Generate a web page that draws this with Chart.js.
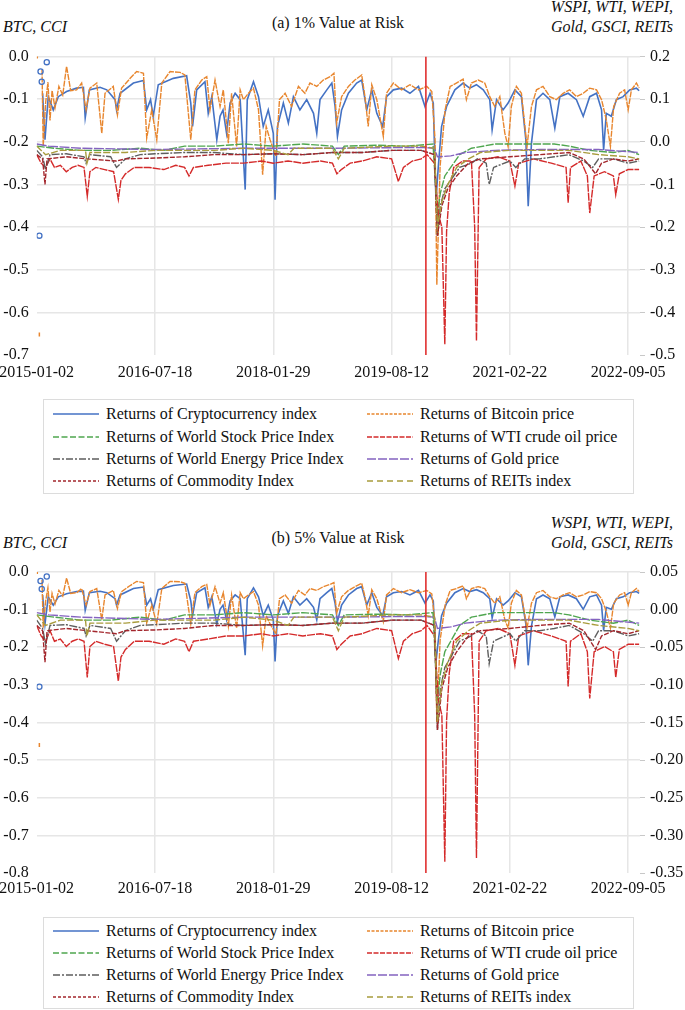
<!DOCTYPE html>
<html>
<head>
<meta charset="utf-8">
<script src="https://cdn.jsdelivr.net/npm/chart.js@4.4.0/dist/chart.umd.min.js"></script>
<style>
  body { margin: 0; background: #fff; }
  #wrap { position: relative; width: 685px; height: 1010px; font-family: 'Liberation Serif', 'Times New Roman', serif; color: #111; overflow: hidden; }
  .txt { position: absolute; font-size: 16px; line-height: 20px; white-space: nowrap; }
  .it { font-style: italic; }
  .box { position: absolute; border: 1px solid #dcdcdc; box-sizing: border-box; }
  .item { position: absolute; height: 22px; line-height: 22px; font-size: 16px; white-space: nowrap; }
  .item svg { position: absolute; top: 9px; }
  .item span { position: absolute; }
</style>
</head>
<body>
<div id="wrap">
  <div class="txt" style="left:0;width:676px;text-align:center;top:13px">(a) 1% Value at Risk</div>
  <div class="txt it" style="left:3px;top:17px">BTC, CCI</div>
  <div class="txt it" style="right:12px;top:-3px;text-align:right">WSPI, WTI, WEPI,<br>Gold, GSCI, REITs</div>
  <div style="position:absolute;left:0;top:0;width:685px;height:390px"><canvas id="chartA" width="685" height="390"></canvas></div>
  <div class="box" id="legA" style="left:43px;top:399px;width:591px;height:95px"></div>

  <div class="txt" style="left:0;width:676px;text-align:center;top:528px">(b) 5% Value at Risk</div>
  <div class="txt it" style="left:3px;top:533px">BTC, CCI</div>
  <div class="txt it" style="right:12px;top:513px;text-align:right">WSPI, WTI, WEPI,<br>Gold, GSCI, REITs</div>
  <div style="position:absolute;left:0;top:500px;width:685px;height:410px"><canvas id="chartB" width="685" height="410"></canvas></div>
  <div class="box" id="legB" style="left:43px;top:917px;width:591px;height:92px"></div>
</div>
<script>
// x axis = trading-day index from 2015-01-02
const dateTicks = [0, 400, 800, 1200, 1600, 2000];
const dateLabels = ['2015-01-02', '2016-07-18', '2018-01-29', '2019-08-12', '2021-02-22', '2022-09-05'];
const covidIdx = 1316;

const leftTicksA = [0, -0.1, -0.2, -0.3, -0.4, -0.5, -0.6, -0.7];
const rightTicksA = [0.2, 0.1, 0, -0.1, -0.2, -0.3, -0.4, -0.5];
const leftTicksB = [0, -0.1, -0.2, -0.3, -0.4, -0.5, -0.6, -0.7, -0.8];
const rightTicksB = [0.05, 0, -0.05, -0.1, -0.15, -0.2, -0.25, -0.3, -0.35];

const seriesNames = [
  'Returns of Cryptocurrency index', 'Returns of Bitcoin price',
  'Returns of World Stock Price Index', 'Returns of WTI crude oil price',
  'Returns of World Energy Price Index', 'Returns of Gold price',
  'Returns of Commodity Index', 'Returns of REITs index'
];

// ---- panel (a): 1% VaR ----
const cciOutA = [[9,-0.42],[13,-0.035],[17,-0.059],[34,-0.013]];
const btcOutA = [[2,0.0],[9,-0.652]];
const cciA = [[20,-0.086],[28,-0.195],[39,-0.094],[56,-0.125],[73,-0.094],[101,-0.082],[135,-0.074],[158,-0.072],[164,-0.144],[178,-0.078],
  [214,-0.072],[237,-0.078],[265,-0.101],[270,-0.125],[282,-0.086],[327,-0.062],[361,-0.056],[372,-0.125],[385,-0.101],[394,-0.14],
  [411,-0.066],[462,-0.051],[507,-0.045],[521,-0.109],[527,-0.164],[541,-0.078],[569,-0.059],[580,-0.133],[592,-0.094],[609,-0.195],
  [620,-0.14],[630,-0.125],[642,-0.18],[654,-0.109],[671,-0.086],[688,-0.101],[705,-0.312],[712,-0.101],[733,-0.059],[750,-0.094],
  [766,-0.164],[783,-0.125],[800,-0.18],[806,-0.336],[814,-0.164],[834,-0.109],[851,-0.156],[868,-0.094],[890,-0.125],[913,-0.101],
  [936,-0.133],[947,-0.18],[958,-0.101],[981,-0.078],[998,-0.062],[1009,-0.117],[1017,-0.187],[1031,-0.125],[1054,-0.086],[1082,-0.062],
  [1099,-0.055],[1116,-0.125],[1133,-0.078],[1150,-0.133],[1170,-0.164],[1183,-0.094],[1206,-0.078],[1234,-0.074],[1262,-0.086],[1291,-0.07],
  [1313,-0.117],[1330,-0.086],[1341,-0.109],[1350,-0.336],[1358,-0.258],[1369,-0.164],[1386,-0.117],[1414,-0.078],[1442,-0.062],[1464,-0.074],
  [1487,-0.066],[1510,-0.078],[1532,-0.101],[1540,-0.172],[1555,-0.101],[1577,-0.125],[1594,-0.109],[1617,-0.078],[1639,-0.094],[1654,-0.195],
  [1662,-0.351],[1673,-0.203],[1690,-0.101],[1712,-0.086],[1735,-0.101],[1752,-0.168],[1769,-0.094],[1797,-0.086],[1825,-0.101],[1848,-0.14],
  [1870,-0.094],[1893,-0.086],[1910,-0.125],[1917,-0.219],[1926,-0.133],[1943,-0.14],[1960,-0.101],[1983,-0.094],[2005,-0.078],[2028,-0.074],[2037,-0.08]];
const btcA = [[18,-0.03],[22,-0.21],[30,-0.11],[38,-0.06],[45,-0.15],[52,-0.08],[62,-0.12],[75,-0.07],[88,-0.09],[101,-0.023],
  [115,-0.08],[135,-0.078],[152,-0.062],[167,-0.125],[180,-0.074],[203,-0.062],[220,-0.18],[231,-0.086],[259,-0.07],[273,-0.137],
  [287,-0.074],[316,-0.051],[338,-0.035],[361,-0.039],[372,-0.191],[389,-0.125],[406,-0.195],[423,-0.062],[451,-0.035],[485,-0.037],
  [501,-0.043],[521,-0.195],[535,-0.078],[558,-0.055],[575,-0.047],[586,-0.125],[603,-0.055],[620,-0.117],[631,-0.078],[648,-0.203],
  [659,-0.086],[676,-0.211],[688,-0.078],[699,-0.101],[716,-0.086],[733,-0.074],[750,-0.125],[764,-0.277],[776,-0.164],[789,-0.195],
  [809,-0.234],[821,-0.101],[840,-0.086],[862,-0.117],[885,-0.07],[907,-0.086],[924,-0.062],[947,-0.07],[969,-0.055],[992,-0.047],
  [1005,-0.039],[1014,-0.156],[1031,-0.094],[1054,-0.07],[1076,-0.055],[1099,-0.043],[1110,-0.094],[1121,-0.164],[1133,-0.066],[1150,-0.101],
  [1172,-0.187],[1183,-0.086],[1206,-0.062],[1234,-0.078],[1262,-0.066],[1291,-0.078],[1319,-0.07],[1336,-0.082],[1347,-0.195],[1353,-0.535],
  [1364,-0.258],[1381,-0.125],[1398,-0.07],[1419,-0.062],[1442,-0.053],[1453,-0.101],[1470,-0.062],[1493,-0.055],[1515,-0.062],[1532,-0.094],
  [1549,-0.117],[1566,-0.094],[1583,-0.18],[1594,-0.211],[1605,-0.117],[1622,-0.07],[1639,-0.086],[1658,-0.211],[1673,-0.117],[1690,-0.078],
  [1712,-0.07],[1735,-0.094],[1757,-0.101],[1780,-0.086],[1802,-0.078],[1825,-0.094],[1848,-0.086],[1870,-0.074],[1893,-0.078],[1910,-0.101],
  [1926,-0.148],[1940,-0.211],[1951,-0.117],[1971,-0.086],[1988,-0.078],[2000,-0.125],[2011,-0.078],[2028,-0.062],[2037,-0.074]];
const wspiA = [[0,-0.01],[60,-0.015],[150,-0.02],[250,-0.02],[350,-0.015],[430,-0.02],[500,-0.01],[600,-0.01],[700,-0.005],[800,-0.01],
  [900,-0.005],[1000,-0.01],[1020,-0.03],[1040,-0.01],[1150,-0.008],[1250,-0.01],[1340,-0.005],[1355,-0.17],[1365,-0.12],[1380,-0.08],
  [1400,-0.06],[1430,-0.03],[1470,-0.015],[1550,-0.005],[1650,-0.005],[1750,-0.005],[1800,-0.01],[1870,-0.02],[1950,-0.025],[2000,-0.02],[2037,-0.03]];
const wtiA = [[0,-0.03],[15,-0.05],[30,-0.06],[45,-0.04],[60,-0.06],[80,-0.055],[100,-0.07],[120,-0.06],[140,-0.055],[160,-0.06],
  [171,-0.128],[180,-0.07],[200,-0.06],[230,-0.065],[260,-0.07],[276,-0.135],[285,-0.09],[300,-0.075],[330,-0.06],[380,-0.06],
  [430,-0.065],[470,-0.055],[500,-0.06],[515,-0.08],[530,-0.06],[580,-0.055],[640,-0.05],[700,-0.05],[760,-0.045],[800,-0.05],
  [850,-0.045],[900,-0.05],[960,-0.045],[1000,-0.05],[1015,-0.075],[1030,-0.065],[1060,-0.05],[1100,-0.045],[1150,-0.035],[1200,-0.04],
  [1223,-0.093],[1240,-0.06],[1270,-0.045],[1300,-0.04],[1320,-0.03],[1345,-0.05],[1358,-0.17],[1370,-0.2],[1380,-0.475],[1386,-0.21],
  [1395,-0.12],[1410,-0.06],[1440,-0.045],[1470,-0.045],[1481,-0.2],[1487,-0.467],[1496,-0.06],[1520,-0.04],[1560,-0.035],[1600,-0.045],
  [1617,-0.104],[1630,-0.05],[1680,-0.04],[1740,-0.05],[1790,-0.06],[1797,-0.143],[1805,-0.06],[1840,-0.045],[1862,-0.08],[1870,-0.167],
  [1885,-0.08],[1920,-0.07],[1950,-0.08],[1958,-0.124],[1970,-0.075],[2000,-0.065],[2037,-0.065]];
const wepiA = [[0,-0.02],[20,-0.035],[30,-0.065],[45,-0.03],[100,-0.028],[160,-0.035],[167,-0.05],[180,-0.03],[250,-0.035],[270,-0.06],
  [300,-0.04],[350,-0.03],[400,-0.028],[500,-0.025],[600,-0.025],[700,-0.03],[800,-0.028],[900,-0.03],[1000,-0.025],[1100,-0.025],
  [1200,-0.02],[1300,-0.02],[1345,-0.03],[1355,-0.22],[1365,-0.15],[1380,-0.11],[1400,-0.09],[1430,-0.06],[1470,-0.05],[1490,-0.04],
  [1520,-0.05],[1530,-0.1],[1545,-0.06],[1600,-0.045],[1620,-0.06],[1650,-0.04],[1700,-0.04],[1750,-0.035],[1800,-0.03],[1850,-0.045],
  [1880,-0.06],[1900,-0.04],[1950,-0.04],[2000,-0.05],[2037,-0.045]];
const goldA = [[0,-0.005],[40,-0.01],[150,-0.015],[400,-0.018],[700,-0.015],[1000,-0.015],[1300,-0.013],[1345,-0.015],[1355,-0.035],[1400,-0.033],
  [1450,-0.025],[1550,-0.02],[1700,-0.018],[1900,-0.018],[2037,-0.025]];
const gsciA = [[0,-0.03],[20,-0.04],[28,-0.1],[35,-0.04],[100,-0.035],[170,-0.04],[270,-0.045],[300,-0.04],[400,-0.038],[500,-0.035],
  [600,-0.03],[700,-0.03],[800,-0.028],[900,-0.03],[1000,-0.025],[1100,-0.025],[1200,-0.02],[1300,-0.02],[1345,-0.03],[1355,-0.22],
  [1370,-0.15],[1390,-0.11],[1420,-0.08],[1460,-0.05],[1500,-0.04],[1600,-0.035],[1700,-0.03],[1800,-0.025],[1850,-0.04],[1890,-0.075],
  [1910,-0.05],[1950,-0.04],[2000,-0.045],[2037,-0.04]];
const reitsA = [[0,-0.01],[30,-0.03],[80,-0.02],[165,-0.02],[170,-0.05],[180,-0.025],[300,-0.025],[400,-0.02],[600,-0.02],[700,-0.015],
  [800,-0.02],[850,-0.03],[870,-0.015],[1000,-0.015],[1020,-0.04],[1040,-0.015],[1200,-0.01],[1300,-0.01],[1345,-0.015],[1355,-0.2],
  [1370,-0.14],[1390,-0.1],[1420,-0.06],[1460,-0.04],[1500,-0.025],[1600,-0.02],[1700,-0.02],[1800,-0.02],[1900,-0.03],[2000,-0.035],[2037,-0.04]];

// ---- panel (b): 5% VaR ----
const cciOutB = [[9,-0.305],[13,-0.024],[17,-0.045],[34,-0.012]];
const btcOutB = [[2,0.0],[9,-0.46]];
const cciB = [[20,-0.061],[28,-0.138],[39,-0.066],[56,-0.088],[73,-0.066],[101,-0.058],[135,-0.052],[158,-0.051],[164,-0.102],[178,-0.055],
  [214,-0.051],[237,-0.055],[265,-0.071],[270,-0.088],[282,-0.061],[327,-0.044],[361,-0.04],[372,-0.088],[385,-0.071],[394,-0.099],
  [411,-0.047],[462,-0.036],[507,-0.032],[521,-0.077],[527,-0.116],[541,-0.055],[569,-0.042],[580,-0.094],[592,-0.066],[609,-0.138],
  [620,-0.099],[630,-0.088],[642,-0.127],[654,-0.077],[671,-0.061],[688,-0.071],[705,-0.221],[712,-0.071],[733,-0.042],[750,-0.066],
  [766,-0.116],[783,-0.088],[800,-0.127],[806,-0.238],[814,-0.116],[834,-0.077],[851,-0.11],[868,-0.066],[890,-0.088],[913,-0.071],
  [936,-0.094],[947,-0.127],[958,-0.071],[981,-0.055],[998,-0.044],[1009,-0.083],[1017,-0.132],[1031,-0.088],[1054,-0.061],[1082,-0.044],
  [1099,-0.039],[1116,-0.088],[1133,-0.055],[1150,-0.094],[1170,-0.116],[1183,-0.066],[1206,-0.055],[1234,-0.052],[1262,-0.061],[1291,-0.049],
  [1313,-0.083],[1330,-0.061],[1341,-0.077],[1350,-0.24],[1358,-0.182],[1369,-0.116],[1386,-0.083],[1414,-0.055],[1442,-0.044],[1464,-0.052],
  [1487,-0.047],[1510,-0.055],[1532,-0.071],[1540,-0.122],[1555,-0.071],[1577,-0.088],[1594,-0.077],[1617,-0.055],[1639,-0.066],[1654,-0.138],
  [1662,-0.248],[1673,-0.144],[1690,-0.071],[1712,-0.061],[1735,-0.071],[1752,-0.119],[1769,-0.066],[1797,-0.061],[1825,-0.071],[1848,-0.099],
  [1870,-0.066],[1893,-0.061],[1910,-0.088],[1917,-0.155],[1926,-0.094],[1943,-0.099],[1960,-0.071],[1983,-0.066],[2005,-0.055],[2028,-0.052],[2037,-0.057]];
const btcB = [[18,-0.021],[22,-0.148],[30,-0.078],[38,-0.042],[45,-0.106],[52,-0.057],[62,-0.085],[75,-0.049],[88,-0.064],[101,-0.016],
  [115,-0.057],[135,-0.055],[152,-0.044],[167,-0.088],[180,-0.052],[203,-0.044],[220,-0.127],[231,-0.061],[259,-0.049],[273,-0.097],
  [287,-0.052],[316,-0.036],[338,-0.025],[361,-0.028],[372,-0.135],[389,-0.088],[406,-0.138],[423,-0.044],[451,-0.025],[485,-0.026],
  [501,-0.03],[521,-0.138],[535,-0.055],[558,-0.039],[575,-0.033],[586,-0.088],[603,-0.039],[620,-0.083],[631,-0.055],[648,-0.144],
  [659,-0.061],[676,-0.149],[688,-0.055],[699,-0.071],[716,-0.061],[733,-0.052],[750,-0.088],[764,-0.196],[776,-0.116],[789,-0.138],
  [809,-0.165],[821,-0.071],[840,-0.061],[862,-0.083],[885,-0.049],[907,-0.061],[924,-0.044],[947,-0.049],[969,-0.039],[992,-0.033],
  [1005,-0.028],[1014,-0.11],[1031,-0.066],[1054,-0.049],[1076,-0.039],[1099,-0.03],[1110,-0.066],[1121,-0.116],[1133,-0.047],[1150,-0.071],
  [1172,-0.132],[1183,-0.061],[1206,-0.044],[1234,-0.055],[1262,-0.047],[1291,-0.055],[1319,-0.049],[1336,-0.058],[1347,-0.138],[1353,-0.4],
  [1364,-0.182],[1381,-0.088],[1398,-0.049],[1419,-0.044],[1442,-0.037],[1453,-0.071],[1470,-0.044],[1493,-0.039],[1515,-0.044],[1532,-0.066],
  [1549,-0.083],[1566,-0.066],[1583,-0.127],[1594,-0.149],[1605,-0.083],[1622,-0.049],[1639,-0.061],[1658,-0.149],[1673,-0.083],[1690,-0.055],
  [1712,-0.049],[1735,-0.066],[1757,-0.071],[1780,-0.061],[1802,-0.055],[1825,-0.066],[1848,-0.061],[1870,-0.052],[1893,-0.055],[1910,-0.071],
  [1926,-0.105],[1940,-0.149],[1951,-0.083],[1971,-0.061],[1988,-0.055],[2000,-0.088],[2011,-0.055],[2028,-0.044],[2037,-0.052]];
const wspiB = [[0,-0.007],[60,-0.01],[150,-0.014],[250,-0.014],[350,-0.01],[430,-0.014],[500,-0.007],[600,-0.007],[700,-0.004],[800,-0.007],
  [900,-0.004],[1000,-0.007],[1020,-0.021],[1040,-0.007],[1150,-0.006],[1250,-0.007],[1340,-0.004],[1355,-0.12],[1365,-0.085],[1380,-0.056],
  [1400,-0.042],[1430,-0.021],[1470,-0.01],[1550,-0.004],[1650,-0.004],[1750,-0.004],[1800,-0.007],[1870,-0.014],[1950,-0.018],[2000,-0.014],[2037,-0.021]];
const wtiB = [[0,-0.021],[15,-0.035],[30,-0.042],[45,-0.028],[60,-0.042],[80,-0.039],[100,-0.049],[120,-0.042],[140,-0.039],[160,-0.042],
  [171,-0.09],[180,-0.049],[200,-0.042],[230,-0.046],[260,-0.049],[276,-0.095],[285,-0.063],[300,-0.053],[330,-0.042],[380,-0.042],
  [430,-0.046],[470,-0.039],[500,-0.042],[515,-0.056],[530,-0.042],[580,-0.039],[640,-0.035],[700,-0.035],[760,-0.032],[800,-0.035],
  [850,-0.032],[900,-0.035],[960,-0.032],[1000,-0.035],[1015,-0.053],[1030,-0.046],[1060,-0.035],[1100,-0.032],[1150,-0.025],[1200,-0.028],
  [1223,-0.065],[1240,-0.042],[1270,-0.032],[1300,-0.028],[1320,-0.021],[1345,-0.035],[1358,-0.12],[1370,-0.14],[1380,-0.335],[1386,-0.147],
  [1395,-0.084],[1410,-0.042],[1440,-0.032],[1470,-0.032],[1481,-0.14],[1487,-0.33],[1496,-0.042],[1520,-0.028],[1560,-0.025],[1600,-0.032],
  [1617,-0.074],[1630,-0.035],[1680,-0.028],[1740,-0.035],[1790,-0.042],[1797,-0.102],[1805,-0.042],[1840,-0.032],[1862,-0.056],[1870,-0.118],
  [1885,-0.056],[1920,-0.049],[1950,-0.056],[1958,-0.09],[1970,-0.053],[2000,-0.046],[2037,-0.046]];
const wepiB = [[0,-0.014],[20,-0.025],[30,-0.046],[45,-0.021],[100,-0.02],[160,-0.025],[167,-0.035],[180,-0.021],[250,-0.025],[270,-0.042],
  [300,-0.028],[350,-0.021],[400,-0.02],[500,-0.018],[600,-0.018],[700,-0.021],[800,-0.02],[900,-0.021],[1000,-0.018],[1100,-0.018],
  [1200,-0.014],[1300,-0.014],[1345,-0.021],[1355,-0.16],[1365,-0.105],[1380,-0.077],[1400,-0.063],[1430,-0.042],[1470,-0.035],[1490,-0.028],
  [1520,-0.035],[1530,-0.072],[1545,-0.042],[1600,-0.032],[1620,-0.042],[1650,-0.028],[1700,-0.028],[1750,-0.025],[1800,-0.021],[1850,-0.032],
  [1880,-0.042],[1900,-0.028],[1950,-0.028],[2000,-0.035],[2037,-0.032]];
const goldB = [[0,-0.004],[40,-0.007],[150,-0.01],[400,-0.013],[700,-0.01],[1000,-0.01],[1300,-0.009],[1345,-0.01],[1355,-0.025],[1400,-0.023],
  [1450,-0.018],[1550,-0.014],[1700,-0.013],[1900,-0.013],[2037,-0.018]];
const gsciB = [[0,-0.021],[20,-0.028],[28,-0.07],[35,-0.028],[100,-0.025],[170,-0.028],[270,-0.032],[300,-0.028],[400,-0.027],[500,-0.025],
  [600,-0.021],[700,-0.021],[800,-0.02],[900,-0.021],[1000,-0.018],[1100,-0.018],[1200,-0.014],[1300,-0.014],[1345,-0.021],[1355,-0.16],
  [1370,-0.105],[1390,-0.077],[1420,-0.056],[1460,-0.035],[1500,-0.028],[1600,-0.025],[1700,-0.021],[1800,-0.018],[1850,-0.028],[1890,-0.053],
  [1910,-0.035],[1950,-0.028],[2000,-0.032],[2037,-0.028]];
const reitsB = [[0,-0.007],[30,-0.021],[80,-0.014],[165,-0.014],[170,-0.035],[180,-0.018],[300,-0.018],[400,-0.014],[600,-0.014],[700,-0.01],
  [800,-0.014],[850,-0.021],[870,-0.01],[1000,-0.01],[1020,-0.028],[1040,-0.01],[1200,-0.007],[1300,-0.007],[1345,-0.01],[1355,-0.15],
  [1370,-0.098],[1390,-0.07],[1420,-0.042],[1460,-0.028],[1500,-0.018],[1600,-0.014],[1700,-0.014],[1800,-0.014],[1900,-0.021],[2000,-0.025],[2037,-0.028]];

const colors = ['#4472C4', '#E8862E', '#4FA64F', '#D42A2A', '#5E5E5E', '#8463C0', '#A3262C', '#A89C3C'];
// legend samples show the dash clearly; in the plot the dense data hides most gaps
const legendDashes = [[], [3, 1.5], [6, 2.5], [5, 1.5], [7, 2, 2, 2], [9, 2], [3, 2], [6, 4]];
const plotDashes = [[], [6, 1], [8, 1.5], [8, 1], [8, 1.5, 2, 1.5], [10, 1.5], [5, 1.5], [7, 2]];
const axisOf = ['yL', 'yL', 'yR', 'yR', 'yR', 'yR', 'yR', 'yR'];

Chart.defaults.font.family = "'Liberation Serif', 'Times New Roman', serif";
Chart.defaults.font.size = 16;
Chart.defaults.color = '#111';

function setTicks(vals) {
  return function (s) { s.ticks = vals.map(v => ({ value: v })); };
}

function makeChart(id, p) {
  const ds = p.series.map((d, i) => ({
    label: seriesNames[i], data: d, yAxisID: axisOf[i],
    borderColor: colors[i], borderDash: plotDashes[i], borderWidth: i === 0 ? 1.6 : 1.4,
    pointRadius: 0, tension: 0, order: 20 - i
  }));
  ds.push({ label: 'cciOut', data: p.cciOut, yAxisID: 'yL', showLine: false, pointRadius: 2.6,
    pointBorderWidth: 1.3, pointBorderColor: colors[0], pointBackgroundColor: 'rgba(0,0,0,0)', order: 1 });
  ds.push({ label: 'btcOut', data: p.btcOut, yAxisID: 'yL', showLine: false, pointStyle: 'line', pointRotation: 90,
    pointRadius: 2, pointBorderWidth: 1.5, pointBorderColor: colors[1], order: 1 });
  ds.push({ label: 'break', data: [[covidIdx, p.lMax], [covidIdx, p.lMin]], yAxisID: 'yL',
    borderColor: '#E03030', borderWidth: 1.6, pointRadius: 0, order: 0 });

  new Chart(document.getElementById(id), {
    type: 'line',
    data: { datasets: ds },
    options: {
      responsive: false, animation: false, events: [],
      layout: { padding: { top: p.top, left: 0, right: 0, bottom: 0 } },
      plugins: { legend: { display: false }, tooltip: { enabled: false }, title: { display: false } },
      scales: {
        x: {
          type: 'linear', min: 0, max: 2040,
          afterBuildTicks: setTicks(dateTicks),
          afterFit: s => { s.height = p.xH; s.paddingLeft = 0; s.paddingRight = 0; },
          ticks: { padding: p.xPad, maxRotation: 0, autoSkip: false,
            callback: v => dateLabels[dateTicks.indexOf(v)] },
          grid: { drawTicks: false, lineWidth: 1.5,
            color: c => (c.tick && c.tick.value === 0) ? 'rgba(0,0,0,0)' : '#E6E6E6' },
          border: { display: false }
        },
        yL: {
          position: 'left', min: p.lMin, max: p.lMax,
          afterBuildTicks: setTicks(p.lTicks),
          afterFit: s => { s.width = 36.7; },
          ticks: { padding: 8, callback: v => v.toFixed(1) },
          grid: { drawTicks: false, lineWidth: 1.5,
            color: c => (c.tick && Math.abs(c.tick.value - p.lMin) < 1e-9) ? 'rgba(0,0,0,0)' : '#E6E6E6' },
          border: { display: false }
        },
        yR: {
          position: 'right', min: p.rMin, max: p.rMax,
          afterBuildTicks: setTicks(p.rTicks),
          afterFit: s => { s.width = 45; },
          ticks: { padding: 5, callback: v => v.toFixed(p.rDec) },
          grid: { drawOnChartArea: false, drawTicks: true, tickLength: 5, tickColor: '#C8C8C8', tickWidth: 1 },
          border: { display: false }
        }
      }
    }
  });
}

makeChart('chartA', {
  series: [cciA, btcA, wspiA, wtiA, wepiA, goldA, gsciA, reitsA], cciOut: cciOutA, btcOut: btcOutA,
  top: 56.6, xH: 35, xPad: 8, lMin: -0.7, lMax: 0, lTicks: leftTicksA,
  rMin: -0.5, rMax: 0.2, rTicks: rightTicksA, rDec: 1
});
makeChart('chartB', {
  series: [cciB, btcB, wspiB, wtiB, wepiB, goldB, gsciB, reitsB], cciOut: cciOutB, btcOut: btcOutB,
  top: 72, xH: 37, xPad: 6, lMin: -0.8, lMax: 0, lTicks: leftTicksB,
  rMin: -0.35, rMax: 0.05, rTicks: rightTicksB, rDec: 2
});

// legends: two columns, four rows
function buildLegend(id, rowTops) {
  const box = document.getElementById(id);
  seriesNames.forEach((name, i) => {
    const col = i % 2, row = Math.floor(i / 2);
    const it = document.createElement('div');
    it.className = 'item';
    it.style.left = (col === 0 ? 9 : 323) + 'px';
    it.style.top = rowTops[row] + 'px';
    const da = legendDashes[i].length ? ' stroke-dasharray="' + legendDashes[i].join(' ') + '"' : '';
    it.innerHTML = '<svg width="46" height="4"><line x1="0" y1="2" x2="46" y2="2" stroke="' + colors[i] +
      '" stroke-width="1.4"' + da + '/></svg><span style="left:53px">' + name + '</span>';
    box.appendChild(it);
  });
}
buildLegend('legA', [3, 26, 48, 70]);
buildLegend('legB', [2, 24, 46, 68]);
</script>
</body>
</html>
